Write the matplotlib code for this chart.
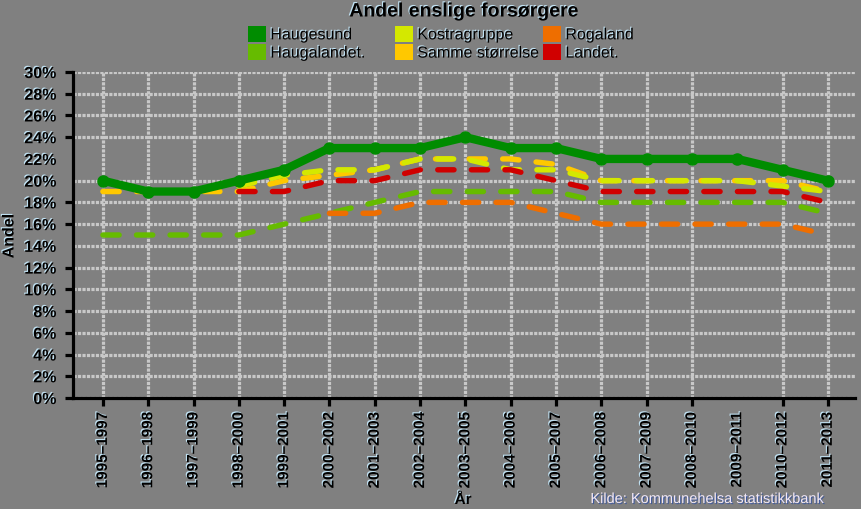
import matplotlib
matplotlib.use('Agg')
import matplotlib.pyplot as plt
import matplotlib.patheffects as pe
from matplotlib.patches import Patch
import numpy as np

nan = np.nan
categories = ["1995–1997", "1996–1998", "1997–1999", "1998–2000", "1999–2001",
              "2000–2002", "2001–2003", "2002–2004", "2003–2005", "2004–2006",
              "2005–2007", "2006–2008", "2007–2009", "2008–2010", "2009–2011",
              "2010–2012", "2011–2013"]
haugesund   = [20, 19, 19, 20, 21, 23, 23, 23, 24, 23, 23, 22, 22, 22, 22, 21, 20]
haugalandet = [15, 15, 15, 15, 16, 17, 18, 19, 19, 19, 19, 18, 18, 18, 18, 18, 17]
kostragruppe = [nan, nan, nan, 19.5, 20.5, 21, 21, 22, 22, 21, 21, 20, 20, 20, 20, 19.5, 19]
samme_storrelse = [19, 19, 19, 19, 20, 20.5, 21, 22, 22, 22, 21.5, 20, 20, 20, 20, 20, 19]
rogaland = [nan, nan, nan, nan, nan, 17, 17, 18, 18, 18, 17, 16, 16, 16, 16, 16, 15]
landet = [nan, nan, nan, 19, 19, 20, 20, 21, 21, 21, 20, 19, 19, 19, 19, 19, 18]
yticks = list(range(0, 31, 2))
ytick_labels = [f"{v}%" for v in yticks]

C_HAUG = '#008C00'
C_HAUGL = '#66BB00'
C_KOSTRA = '#D4E800'
C_SAMME = '#FFC800'
C_ROGA = '#EE6E00'
C_LANDET = '#D00000'
BG = '#808080'

plt.rcParams['font.family'] = ['Liberation Sans', 'DejaVu Sans']
shadow = [pe.SimplePatchShadow(offset=(-0.8, 0.8), shadow_rgbFace='#c8ecff', alpha=0.9), pe.Normal()]

fig = plt.figure(figsize=(8.61, 5.10), dpi=100, facecolor=BG)
L, R, T, B = 73, 855, 73, 399
ax = fig.add_axes([L / 861, 1 - B / 510, (R - L) / 861, (B - T) / 510])
ax.set_facecolor(BG)

x = np.arange(len(categories))
dash_kw = dict(lw=3.9, dashes=(3, 3.2), dash_capstyle='round', solid_capstyle='round')
ax.plot(x, haugalandet, color=C_HAUGL, zorder=3, **dash_kw)
ax.plot(x, rogaland, color=C_ROGA, zorder=3, **dash_kw)
ax.plot(x, samme_storrelse, color=C_SAMME, zorder=3, **dash_kw)
ax.plot(x, kostragruppe, color=C_KOSTRA, zorder=3, **dash_kw)
ax.plot(x, landet, color=C_LANDET, zorder=3, **dash_kw)
ax.plot(x, haugesund, color=C_HAUG, lw=6, marker='o', ms=8, zorder=4,
        solid_capstyle='round', solid_joinstyle='round')

ax.set_xlim(-0.66, 16.6)
ax.set_ylim(0, 30)

major_idx = [i for i in range(len(categories)) if i != 14]
ax.set_xticks(major_idx, labels=[categories[i] for i in major_idx])
ax.set_xticks([14], labels=[categories[14]], minor=True)
ax.set_yticks(yticks, labels=ytick_labels)

ax.tick_params(axis='x', which='major', direction='out', length=6, width=2.3,
               color='black', pad=4, labelsize=11, rotation=90)
ax.tick_params(axis='x', which='minor', length=0, pad=10, labelsize=11, rotation=90)
ax.tick_params(axis='y', direction='out', length=6, width=2.3, color='black',
               pad=6, labelsize=11.5)
for lab in ax.get_xticklabels() + ax.get_xticklabels(minor=True) + ax.get_yticklabels():
    lab.set_fontweight('bold')
    lab.set_path_effects(shadow)

ax.grid(True, which='major', color='#C8C8C8', lw=2.3, linestyle=(0, (1.0, 0.4)), zorder=1)
ax.set_axisbelow(True)
for t, v in zip(ax.yaxis.get_major_ticks(), yticks):
    if v == 22:
        t.gridline.set_visible(False)
    if v in (14, 20, 22):
        t.tick1line.set_visible(False)

for s in ('top', 'right'):
    ax.spines[s].set_visible(False)
for s in ('left', 'bottom'):
    ax.spines[s].set_linewidth(2.3)
    ax.spines[s].set_color('black')
    ax.spines[s].set_zorder(5)

fig.text(464 / 861, 1 - 13 / 510, "Andel enslige forsørgere", ha='center', va='center',
         fontsize=14, fontweight='bold', path_effects=shadow)
fig.text(9 / 861, 1 - 237 / 510, "Andel", rotation=90, ha='center', va='center',
         fontsize=11.5, fontweight='bold', path_effects=shadow)
fig.text(463 / 861, 1 - 501 / 510, "År", ha='center', va='center',
         fontsize=11, fontweight='bold', path_effects=shadow)
fig.text(826 / 861, 1 - 500 / 510, "Kilde: Kommunehelsa statistikkbank", ha='right', va='center',
         fontsize=10.5, color='#F2E8F6',
         path_effects=[pe.SimplePatchShadow(offset=(0.8, -0.8), shadow_rgbFace='#3050a0', alpha=0.8), pe.Normal()])

cols = [(248, [("Haugesund", C_HAUG), ("Haugalandet.", C_HAUGL)]),
        (395, [("Kostragruppe", C_KOSTRA), ("Samme størrelse", C_SAMME)]),
        (543, [("Rogaland", C_ROGA), ("Landet.", C_LANDET)])]
for xpix, items in cols:
    handles = [Patch(facecolor=c, edgecolor='none') for _, c in items]
    leg = fig.legend(handles, [n for n, _ in items], loc='upper left',
                     bbox_to_anchor=(xpix / 861, 1 - 27 / 510), frameon=False,
                     fontsize=11.5, handlelength=1.15, handleheight=1.15,
                     handletextpad=0.25, labelspacing=0.12, borderpad=0, borderaxespad=0)
    for t in leg.get_texts():
        t.set_path_effects(shadow)

fig.savefig('out.png', dpi=100, facecolor=BG)
